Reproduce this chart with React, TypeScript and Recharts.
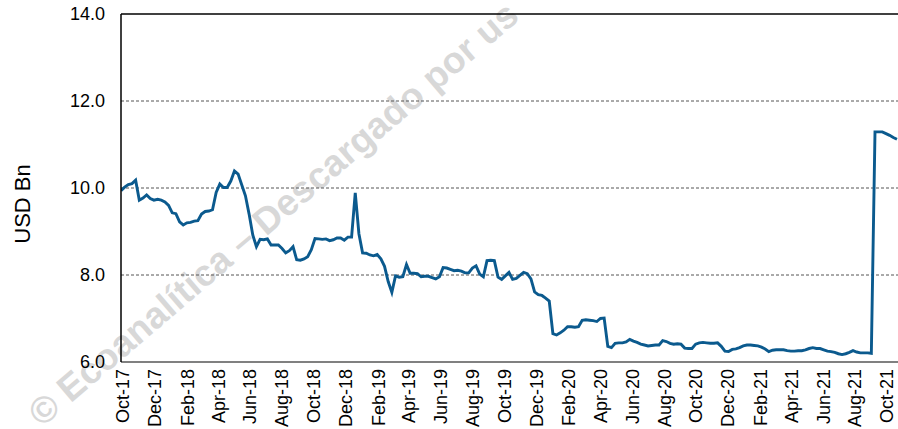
import React from 'react';
import { LineChart, Line, XAxis, YAxis, CartesianGrid, ReferenceLine } from 'recharts';

// Weekly observations starting on this date (USD Bn)
const startDate = '2017-09-27';
const reserves = [
  9.94, 10.02, 10.08, 10.10, 10.18, 9.72, 9.77, 9.84, 9.76, 9.72,
  9.74, 9.72, 9.68, 9.60, 9.43, 9.41, 9.22, 9.15, 9.20, 9.21,
  9.24, 9.25, 9.40, 9.46, 9.47, 9.50, 9.90, 10.09, 10.01, 10.01,
  10.16, 10.39, 10.32, 10.07, 9.82, 9.40, 8.92, 8.65, 8.82, 8.81,
  8.83, 8.69, 8.69, 8.69, 8.61, 8.51, 8.56, 8.65, 8.35, 8.34,
  8.37, 8.42, 8.58, 8.84, 8.83, 8.82, 8.83, 8.79, 8.81, 8.85,
  8.85, 8.80, 8.87, 8.87, 9.89, 8.95, 8.51, 8.50, 8.46, 8.44,
  8.47, 8.37, 8.20, 7.85, 7.60, 7.98, 7.95, 7.96, 8.24, 8.04,
  8.04, 8.03, 7.96, 7.97, 7.97, 7.94, 7.91, 7.96, 8.17, 8.16,
  8.13, 8.10, 8.11, 8.09, 8.05, 8.05, 8.16, 8.21, 8.02, 7.96,
  8.33, 8.34, 8.33, 7.95, 7.90, 7.98, 8.06, 7.90, 7.92, 7.99,
  8.06, 8.03, 7.91, 7.61, 7.55, 7.53, 7.47, 7.40, 6.65, 6.62,
  6.67, 6.73, 6.81, 6.81, 6.80, 6.81, 6.96, 6.97, 6.96, 6.95,
  6.93, 7.00, 7.01, 6.36, 6.33, 6.43, 6.44, 6.44, 6.46, 6.52,
  6.48, 6.45, 6.41, 6.39, 6.37, 6.38, 6.39, 6.39, 6.49, 6.47,
  6.43, 6.41, 6.42, 6.41, 6.32, 6.31, 6.31, 6.41, 6.44, 6.45,
  6.44, 6.43, 6.43, 6.44, 6.36, 6.25, 6.24, 6.29, 6.30, 6.33,
  6.37, 6.39, 6.39, 6.38, 6.37, 6.34, 6.30, 6.24, 6.27, 6.28,
  6.28, 6.28, 6.26, 6.25, 6.25, 6.26, 6.26, 6.28, 6.31, 6.33,
  6.31, 6.31, 6.28, 6.25, 6.24, 6.22, 6.19, 6.17, 6.19, 6.22,
  6.26, 6.23, 6.21, 6.21, 6.21, 6.20, 11.29, 11.29, 11.29, 11.25,
  11.21, 11.16, 11.12,
];
const endDate = '2021-10-22';

const tickLabels = [
  'Oct-17', 'Dec-17', 'Feb-18', 'Apr-18', 'Jun-18', 'Aug-18', 'Oct-18', 'Dec-18',
  'Feb-19', 'Apr-19', 'Jun-19', 'Aug-19', 'Oct-19', 'Dec-19', 'Feb-20', 'Apr-20',
  'Jun-20', 'Aug-20', 'Oct-20', 'Dec-20', 'Feb-21', 'Apr-21', 'Jun-21', 'Aug-21', 'Oct-21',
];
const yTicks = [6, 8, 10, 12, 14];
const gridValues = [8, 10, 12];
const yLabel = 'USD Bn';
const watermark = '© Ecoanalítica – Descargado por us';

const MONTHS = ['Jan', 'Feb', 'Mar', 'Apr', 'May', 'Jun', 'Jul', 'Aug', 'Sep', 'Oct', 'Nov', 'Dec'];
const DAY = 86400000;
const parseISO = (s: string) => {
  const [y, m, d] = s.split('-').map(Number);
  return Date.UTC(y, m - 1, d);
};
const labelToTime = (l: string) => {
  const [mon, yy] = l.split('-');
  return Date.UTC(2000 + Number(yy), MONTHS.indexOf(mon), 1);
};

const t0 = parseISO(startDate);
const data = reserves.map((v, i) => ({ t: t0 + i * 7 * DAY, v }));
const xTicks = tickLabels.map(labelToTime);
const labelByTime: Record<number, string> = {};
tickLabels.forEach((l, i) => { labelByTime[xTicks[i]] = l; });

const FONT = 'Liberation Sans, Arial, sans-serif';

const XTick = (props: any) => {
  const { x, payload } = props;
  const label = labelByTime[payload.value] ?? '';
  return (
    <text
      transform={`translate(${x},369) rotate(-90)`}
      textAnchor="end"
      dy="0.35em"
      fontSize={18}
      fontFamily={FONT}
      fill="#000"
    >
      {label}
    </text>
  );
};

export default function App() {
  return (
    <div style={{ position: 'absolute', left: 0, top: 0, width: 898, height: 429, overflow: 'hidden', background: '#fff' }}>
      <svg width={898} height={429} style={{ position: 'absolute', left: 0, top: 0 }}>
        <text
          transform="translate(42,428) rotate(-40.5)"
          fontSize={37}
          fontWeight="bold"
          fontFamily={FONT}
          fill="#d8d8d8"
        >
          {watermark}
        </text>
      </svg>
      <div style={{ position: 'absolute', left: 0, top: 0 }}>
        <LineChart width={898} height={429} data={data} margin={{ top: 14, right: 0, bottom: 0, left: 0 }}>
          <CartesianGrid vertical={false} horizontalValues={gridValues} stroke="#555" strokeDasharray="3 2" />
          <ReferenceLine y={14} stroke="#000" strokeWidth={1.3} />
          <XAxis
            dataKey="t"
            type="number"
            domain={[t0, parseISO(endDate)]}
            ticks={xTicks}
            interval={0}
            height={67}
            tickLine={false}
            axisLine={{ stroke: '#808080', strokeWidth: 2 }}
            tick={<XTick />}
            allowDataOverflow
          />
          <YAxis
            type="number"
            domain={[6, 14]}
            ticks={yTicks}
            interval={0}
            width={121}
            tickLine={false}
            tickSize={0}
            tickMargin={16}
            axisLine={{ stroke: '#000', strokeWidth: 1.5 }}
            tick={{ fontSize: 18, fill: '#000', fontFamily: FONT }}
            tickFormatter={(v: number) => v.toFixed(1)}
            label={() => (
              <text
                transform="translate(30,204) rotate(-90)"
                textAnchor="middle"
                fontSize={22}
                fontFamily={FONT}
                fill="#000"
              >
                {yLabel}
              </text>
            )}
          />
          <Line
            type="linear"
            dataKey="v"
            stroke="#0b5a8e"
            strokeWidth={2.9}
            dot={false}
            isAnimationActive={false}
          />
        </LineChart>
      </div>
    </div>
  );
}
